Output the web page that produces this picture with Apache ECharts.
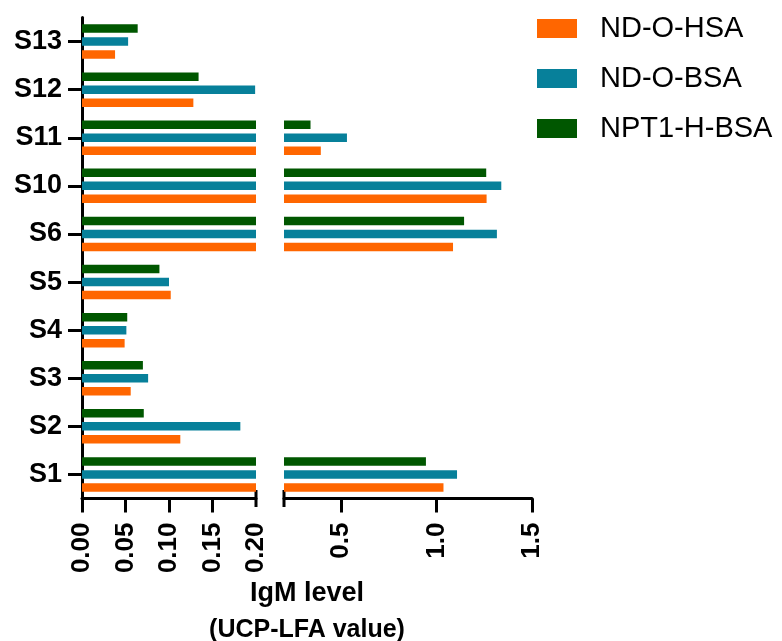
<!DOCTYPE html>
<html><head><meta charset="utf-8">
<script src="https://cdn.jsdelivr.net/npm/echarts@6/dist/echarts.min.js"></script>
<style>html,body{margin:0;padding:0;background:#fff}#c{width:782px;height:641px}</style>
</head><body><div id="c"></div>
<script>
// ---- data (categories listed bottom to top) ----
const categories = ['S1','S2','S3','S4','S5','S6','S10','S11','S12','S13'];
const ndOHSA   = [1.036, 0.113, 0.056, 0.049, 0.102, 1.086, 1.262, 0.393, 0.128, 0.038];
const ndOBSA   = [1.107, 0.182, 0.076, 0.051, 0.100, 1.316, 1.339, 0.530, 0.199, 0.053];
const npt1HBSA = [0.944, 0.071, 0.070, 0.052, 0.089, 1.144, 1.260, 0.339, 0.134, 0.064];
const seriesNames = ['ND-O-HSA','ND-O-BSA','NPT1-H-BSA'];
const leftTickValues = [0, 0.05, 0.10, 0.15, 0.20];
const rightTickValues = [0.5, 1.0, 1.5];
const axisTitle = 'IgM level';
const axisSubtitle = '(UCP-LFA value)';
const BREAK_VALUE = 0.2;
const AXIS_MAX = 1.5;

// ---- style / layout ----
const colors = ['#FF6600','#07809A','#005700'];
const FONT = '"Liberation Sans", Arial, Helvetica, sans-serif';
const GRID_TOP = 17.5, GRID_H = 481;
const LEFT_X = 82, LEFT_W = 174, RIGHT_X = 284, RIGHT_W = 248;
const AXIS_BOTTOM = GRID_TOP + GRID_H;

const chart = echarts.init(document.getElementById('c'), null, {renderer: 'canvas'});
const allValues = [ndOHSA, ndOBSA, npt1HBSA];
const series = [];
// drawn in reverse so the first series sits at the bottom of each group
[2, 1, 0].forEach(i => {
  const vals = allValues[i];
  const common = {
    type: 'bar', name: seriesNames[i], barWidth: 8.5, barGap: '53%',
    itemStyle: {color: colors[i]}, animation: false, silent: true
  };
  series.push(Object.assign({}, common, {
    xAxisIndex: 0, yAxisIndex: 0,
    data: vals.map(v => Math.min(v, BREAK_VALUE))
  }));
  series.push(Object.assign({}, common, {
    xAxisIndex: 1, yAxisIndex: 1,
    data: vals.map(v => v > BREAK_VALUE ? v : '-')
  }));
});

const axisLineStyle = {color: '#000', width: 3};
const xLabel = {rotate: 90, margin: 24, fontSize: 26, fontWeight: 'bold', color: '#000', fontFamily: FONT};

const option = {
  animation: false,
  backgroundColor: '#fff',
  legend: {
    data: seriesNames, orient: 'vertical', left: 532, top: 9,
    itemWidth: 40, itemHeight: 19, itemGap: 21, icon: 'rect',
    textStyle: {fontSize: 29, color: '#000', fontFamily: FONT, lineHeight: 28, padding: [0, 0, 0, 18]}
  },
  grid: [
    {left: LEFT_X, top: GRID_TOP, width: LEFT_W, height: GRID_H, containLabel: false},
    {left: RIGHT_X, top: GRID_TOP, width: RIGHT_W, height: GRID_H, containLabel: false}
  ],
  xAxis: [
    {
      gridIndex: 0, type: 'value', min: 0, max: BREAK_VALUE, interval: 0.05,
      axisLine: {show: true, lineStyle: axisLineStyle},
      axisTick: {show: true, length: 14, lineStyle: axisLineStyle, customValues: leftTickValues.slice(0, -1)},
      axisLabel: Object.assign({}, xLabel, {customValues: leftTickValues, formatter: v => Number(v).toFixed(2)}),
      splitLine: {show: false}
    },
    {
      gridIndex: 1, type: 'value', min: BREAK_VALUE, max: AXIS_MAX,
      axisLine: {show: true, lineStyle: axisLineStyle},
      axisTick: {show: true, length: 14, lineStyle: axisLineStyle, customValues: rightTickValues},
      axisLabel: Object.assign({}, xLabel, {customValues: rightTickValues, formatter: v => Number(v).toFixed(1)}),
      splitLine: {show: false}
    }
  ],
  yAxis: [
    {
      gridIndex: 0, type: 'category', data: categories,
      axisLine: {show: true, lineStyle: axisLineStyle},
      axisTick: {show: true, alignWithLabel: true, length: 14, lineStyle: axisLineStyle},
      axisLabel: {margin: 20, fontSize: 27, fontWeight: 'bold', color: '#000', fontFamily: FONT},
      splitLine: {show: false}
    },
    {gridIndex: 1, type: 'category', data: categories, show: false}
  ],
  series: series
};
chart.setOption(option);

// break marks and axis title, placed from the library's own scales
const xBreakLeft = chart.convertToPixel({xAxisIndex: 0}, BREAK_VALUE);
const xBreakRight = chart.convertToPixel({xAxisIndex: 1}, BREAK_VALUE);
const titleCenter = (chart.convertToPixel({xAxisIndex: 0}, 0) + chart.convertToPixel({xAxisIndex: 1}, AXIS_MAX)) / 2;
const mark = x => ({type: 'line', shape: {x1: x, y1: AXIS_BOTTOM - 8.5, x2: x, y2: AXIS_BOTTOM + 8.5}, style: {stroke: '#000', lineWidth: 3}, silent: true});
chart.setOption({
  graphic: [
    mark(xBreakLeft), mark(xBreakRight),
    {type: 'text', x: titleCenter, y: 594, style: {text: axisTitle, fontSize: 27, fontWeight: 'bold', fontFamily: FONT, fill: '#000', align: 'center', verticalAlign: 'middle'}},
    {type: 'text', x: titleCenter, y: 630, style: {text: axisSubtitle, fontSize: 25, fontWeight: 'bold', fontFamily: FONT, fill: '#000', align: 'center', verticalAlign: 'middle'}}
  ]
});
</script>
</body></html>
